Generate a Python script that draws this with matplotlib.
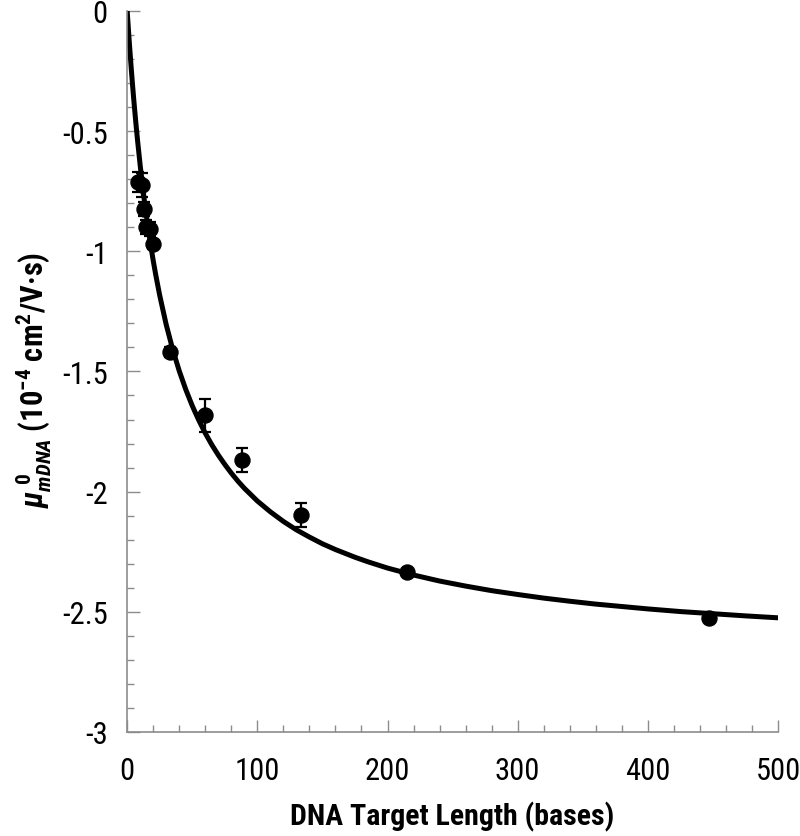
import matplotlib.pyplot as plt
from matplotlib.ticker import MultipleLocator, FuncFormatter

length_bases = [8.4, 11.5, 13.1, 14.6, 17.7, 19.7, 32.6, 60.0, 88.0, 133.6, 215.0, 447.0]
mobility = [-0.712, -0.725, -0.825, -0.900, -0.908, -0.971, -1.420, -1.683, -1.867, -2.096, -2.333, -2.524]
mobility_err = [0.04, 0.05, 0.03, 0.03, 0.03, 0.02, 0.02, 0.07, 0.05, 0.05, 0.01, 0.01]

# Fitted curve, points
fit_x = [0, 0.5, 1, 1.5, 2, 3, 4, 5, 6, 7, 8, 10, 12, 13, 16, 18, 20, 22, 25, 30,
         35, 40, 45, 50, 55, 60, 65, 70, 75, 80, 85, 90, 100, 110, 120, 130, 140,
         150, 160, 175, 185, 200, 220, 240, 260, 280, 300, 320, 340, 360, 380,
         400, 425, 450, 475, 500]
fit_y = [0.0, -0.042, -0.082, -0.121, -0.159, -0.232, -0.301, -0.366, -0.427,
         -0.486, -0.541, -0.644, -0.737, -0.781, -0.901, -0.972, -1.039, -1.100,
         -1.184, -1.306, -1.409, -1.498, -1.575, -1.643, -1.703, -1.757, -1.805,
         -1.848, -1.887, -1.923, -1.956, -1.986, -2.039, -2.084, -2.124, -2.159,
         -2.189, -2.217, -2.241, -2.273, -2.292, -2.318, -2.347, -2.372, -2.393,
         -2.412, -2.428, -2.443, -2.456, -2.468, -2.478, -2.488, -2.499, -2.508,
         -2.517, -2.525]

family = 'Roboto Condensed'
plt.rcParams['font.family'] = [family, 'DejaVu Sans']
plt.rcParams['mathtext.fontset'] = 'custom'
plt.rcParams['mathtext.rm'] = family + ':bold'
plt.rcParams['mathtext.it'] = family + ':italic:bold'
plt.rcParams['mathtext.bf'] = family + ':bold'

fig = plt.figure(figsize=(8, 8.37), dpi=100)
ax = fig.add_axes([0.159, 0.1243, 0.8135, 0.8614])

ax.plot(fit_x, fit_y, color='black', lw=3.6, solid_joinstyle='round', zorder=2)
ax.errorbar(length_bases, mobility, yerr=mobility_err, fmt='o', color='black',
            ms=10.8, elinewidth=1.6, capsize=4, capthick=1.6, zorder=3)

ax.set_xlim(0, 500)
ax.set_ylim(-3, 0)
ax.xaxis.set_major_locator(MultipleLocator(100))
ax.xaxis.set_minor_locator(MultipleLocator(20))
ax.yaxis.set_major_locator(MultipleLocator(0.5))
ax.yaxis.set_minor_locator(MultipleLocator(0.1))
ax.yaxis.set_major_formatter(FuncFormatter(lambda v, p: '%g' % v))

for s in ['top', 'right']:
    ax.spines[s].set_visible(False)
for s in ['left', 'bottom']:
    ax.spines[s].set_color('#8c8c8c')
    ax.spines[s].set_linewidth(1.2)

ax.tick_params(which='both', direction='in', color='#8c8c8c', width=1.0)
ax.tick_params(which='major', length=9, labelsize=22)
ax.tick_params(axis='x', which='major', pad=17)
ax.tick_params(axis='y', which='major', pad=14)
ax.tick_params(which='minor', length=5)

ax.set_xlabel('DNA Target Length (bases)', fontsize=21.5, fontweight='bold')
ax.xaxis.set_label_coords(0.5, -0.096)
ax.set_ylabel(r'$\mathit{\mu}_{\mathit{mDNA}}^{\ \mathit{0}}$ (10$^{-4}$ cm$^{2}$/V·s)',
              fontsize=22, fontweight='bold')
ax.yaxis.set_label_coords(-0.112, 0.49)

fig.savefig('out.png', dpi=100)
